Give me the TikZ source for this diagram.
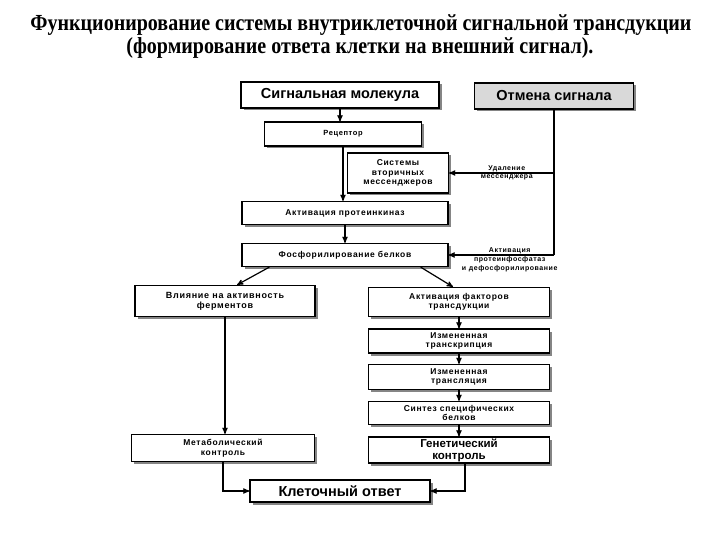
\documentclass[tikz,border=0pt]{standalone}
\usepackage{fontspec}
\setmainfont{Liberation Sans}
\newfontfamily\titlefont{Liberation Serif}[FakeStretch=0.87]
\newfontfamily\boxfont{Liberation Sans}[LetterSpace=8]
\usetikzlibrary{arrows}
\usetikzlibrary{shadows}

\tikzset{
  block/.style={draw, line width=1.2pt, fill=white, inner sep=1pt, align=center,
    drop shadow={shadow xshift=2.5pt, shadow yshift=-2.5pt, fill=black!60, opacity=0.8},
    font=\boxfont\bfseries\fontsize{8.5}{9.5}\selectfont},
  bigblock/.style={block, font=\bfseries\fontsize{14.5}{15}\selectfont},
  link/.style={line width=1.2pt, -stealth'},
  note/.style={font=\boxfont\bfseries\fontsize{7}{8.5}\selectfont, align=center, inner sep=1pt},
  heading/.style={anchor=base, font=\titlefont\bfseries\fontsize{23}{25}\selectfont}
}

\begin{document}
\begin{tikzpicture}[x=1pt,y=-1pt]
  \useasboundingbox (0,0) rectangle (720,540);
  % title
  \node[heading] (title1) at (361,31) {Функционирование системы внутриклеточной сигнальной трансдукции};
  \node[heading] (title2) at (360,54) {(формирование ответа клетки на внешний сигнал).};
  % upper chain
  \node[bigblock, minimum width=198pt, minimum height=26pt] (signal) at (340,95) {Сигнальная молекула};
  \node[bigblock, fill=black!15, minimum width=159pt, minimum height=26pt] (cancel) at (554,96) {Отмена сигнала};
  \node[block, minimum width=157pt, minimum height=24pt, font=\boxfont\bfseries\fontsize{7.5}{8.5}\selectfont] (receptor) at (343,134) {Рецептор};
  \node[block, minimum width=101pt, minimum height=40pt] (messengers) at (398,173) {Системы\\вторичных\\мессенджеров};
  \node[block, minimum width=206pt, minimum height=23pt] (kinase) at (345,213) {Активация протеинкиназ};
  \node[block, minimum width=206pt, minimum height=23pt] (phospho) at (345,255) {Фосфорилирование белков};
  % left branch
  \node[block, minimum width=180pt, minimum height=31pt, font=\boxfont\bfseries\fontsize{9}{10}\selectfont] (enzymes) at (225,301) {Влияние на активность\\ферментов};
  \node[block, minimum width=183pt, minimum height=27pt] (metabolic) at (223,448) {Метаболический\\контроль};
  % right branch
  \node[block, minimum width=181pt, minimum height=29pt] (factors) at (459,302) {Активация факторов\\трансдукции};
  \node[block, minimum width=181pt, minimum height=24pt] (transcr) at (459,341) {Измененная\\транскрипция};
  \node[block, minimum width=181pt, minimum height=25pt] (transl) at (459,377) {Измененная\\трансляция};
  \node[block, minimum width=181pt, minimum height=23pt] (synthesis) at (459,413) {Синтез специфических\\белков};
  \node[block, minimum width=181pt, minimum height=26pt, font=\bfseries\fontsize{11.5}{12}\selectfont] (genetic) at (459,450) {Генетический\\контроль};
  % result
  \node[bigblock, minimum width=180pt, minimum height=22pt] (response) at (340,491) {Клеточный ответ};

  % arrows
  \draw[link] (signal.south) -- (signal.south |- receptor.north);
  \draw[link] (receptor.south) -- (receptor.south |- kinase.north);
  \draw[link] (kinase) -- (phospho);
  \draw[link] ([xshift=28pt]phospho.south west) -- ([xshift=12pt]enzymes.north);
  \draw[link] ([xshift=-28pt]phospho.south east) -- ([xshift=-6pt]factors.north);
  \foreach \a/\b in {factors/transcr, transcr/transl, transl/synthesis, synthesis/genetic}
    \draw[link] (\a) -- (\b);
  \draw[link] (enzymes.south) -- (enzymes.south |- metabolic.north);
  \draw[link] (metabolic.south) |- (response.west);
  \draw[link] ([xshift=6pt]genetic.south) |- (response.east);
  % signal cancelling
  \coordinate (turn) at (cancel.south |- phospho.east);
  \draw[line width=1.2pt] (cancel.south) -- (turn);
  \draw[link] (turn) -- node[note, above, pos=0.42] {Активация}
    node[note, below, pos=0.42] {протеинфосфатаз\\и дефосфорилирование} (phospho.east);
  \draw[link] (cancel.south |- messengers.east) -- node[note, above, pos=0.45] {Удаление}
    node[note, below, pos=0.45] {мессенджера} (messengers.east);
\end{tikzpicture}
\end{document}
